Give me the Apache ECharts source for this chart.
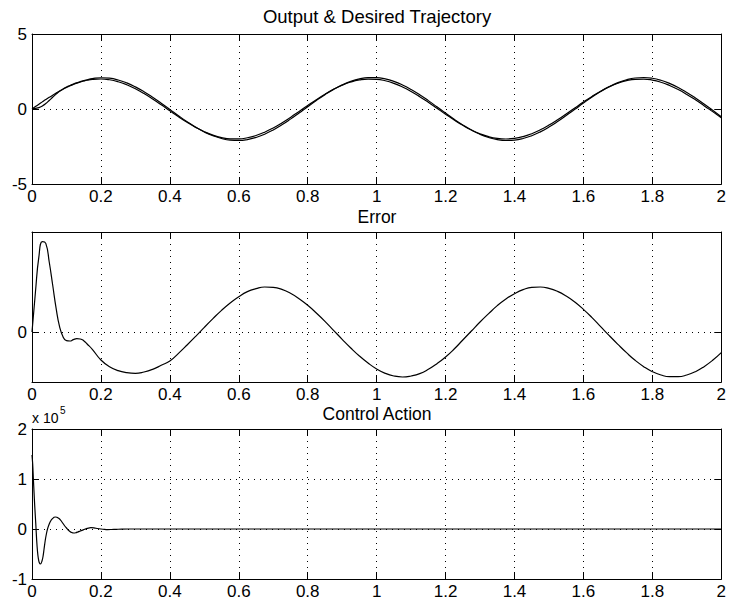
<!DOCTYPE html>
<html>
<head>
<meta charset="utf-8">
<script src="https://cdn.jsdelivr.net/npm/echarts@6/dist/echarts.min.js"></script>
<style>
html,body{margin:0;padding:0;background:#fff;}
#c{width:729px;height:610px;}
</style>
</head>
<body>
<div id="c"></div>
<script>
// time samples for trajectory / error panels
const tTraj = [0,0.01,0.02,0.03,0.04,0.05,0.06,0.07,0.08,0.09,0.10,0.11,0.12,0.13,0.14,0.15,0.16,0.175,
  0.2,0.225,0.25,0.275,0.3,0.325,0.35,0.375,0.4,0.425,0.45,0.475,0.5,0.525,0.55,0.575,0.6,0.625,0.65,0.675,
  0.7,0.725,0.75,0.775,0.8,0.825,0.85,0.875,0.9,0.925,0.95,0.975,1.0,1.025,1.05,1.075,1.1,1.125,1.15,1.175,
  1.2,1.225,1.25,1.275,1.3,1.325,1.35,1.375,1.4,1.425,1.45,1.475,1.5,1.525,1.55,1.575,1.6,1.625,1.65,1.675,
  1.7,1.725,1.75,1.775,1.8,1.825,1.85,1.875,1.9,1.925,1.95,1.975,2.0];

const desired = [0,0.160,0.319,0.475,0.629,0.779,0.924,1.062,1.194,1.319,1.435,1.541,1.638,1.725,1.800,1.864,1.916,1.971,
  1.999,1.948,1.819,1.617,1.351,1.031,0.670,0.282,-0.117,-0.511,-0.885,-1.224,-1.514,-1.743,-1.903,-1.987,
  -1.992,-1.918,-1.767,-1.546,-1.263,-0.929,-0.559,-0.166,0.233,0.623,0.988,1.314,1.587,1.797,1.936,1.997,
  1.979,1.881,1.709,1.469,1.170,0.824,0.446,0.050,-0.349,-0.733,-1.088,-1.400,-1.656,-1.846,-1.962,-2.000,
  -1.958,-1.839,-1.646,-1.388,-1.073,-0.716,-0.331,0.067,0.463,0.840,1.184,1.481,1.718,1.887,1.981,1.995,
  1.930,1.786,1.571,1.301,0.974,0.612,0.224,-0.175,-0.576];

const output = [0,0.040,0.093,0.204,0.363,0.569,0.783,0.991,1.178,1.333,1.461,1.568,1.661,1.745,1.821,1.890,1.952,2.023,
  2.083,2.052,1.935,1.739,1.475,1.151,0.782,0.382,-0.030,-0.447,-0.846,-1.211,-1.528,-1.783,-1.968,-2.074,
  -2.098,-2.039,-1.897,-1.681,-1.397,-1.057,-0.675,-0.266,0.153,0.566,0.956,1.309,1.609,1.845,2.008,2.090,
  2.090,2.005,1.841,1.604,1.302,0.949,0.558,0.145,-0.274,-0.682,-1.064,-1.403,-1.686,-1.901,-2.041,-2.099,
  -2.073,-1.966,-1.780,-1.523,-1.204,-0.838,-0.439,-0.023,0.395,0.797,1.168,1.492,1.755,1.949,2.066,2.099,
  2.049,1.915,1.705,1.435,1.103,0.731,0.328,-0.090,-0.514];

const errorVals = [0,0.120,0.226,0.271,0.266,0.210,0.141,0.071,0.016,-0.014,-0.026,-0.027,-0.023,-0.020,-0.021,-0.026,-0.036,-0.052,
  -0.084,-0.104,-0.116,-0.122,-0.124,-0.120,-0.112,-0.100,-0.087,-0.064,-0.039,-0.013,0.014,0.040,0.065,0.087,
  0.106,0.121,0.130,0.135,0.134,0.128,0.116,0.100,0.080,0.057,0.032,0.005,-0.022,-0.048,-0.072,-0.093,
  -0.111,-0.124,-0.132,-0.135,-0.132,-0.125,-0.112,-0.095,-0.075,-0.051,-0.024,0.003,0.030,0.055,0.079,0.099,
  0.115,0.127,0.134,0.135,0.131,0.122,0.108,0.090,0.068,0.043,0.016,-0.011,-0.037,-0.062,-0.085,-0.104,
  -0.119,-0.129,-0.134,-0.134,-0.129,-0.119,-0.104,-0.085,-0.062];

// control action (x 1e5)
const tCtrl = [0,0.002,0.004,0.006,0.008,0.011,0.0135,0.016,0.018,0.021,0.025,0.029,0.032,0.035,0.0386,0.042,0.045,0.05,0.055,0.06,0.064,0.068,
  0.072,0.076,0.08,0.085,0.09,0.095,0.10,0.105,0.11,0.115,0.121,0.127,0.133,0.14,0.15,0.16,0.171,0.18,0.19,0.20,0.21,0.219,0.23,0.245,0.26,0.28,0.3,0.5,1.0,1.5,2.0];
const control = [1.48,1.30,1.00,0.72,0.45,0.10,-0.22,-0.45,-0.57,-0.67,-0.70,-0.64,-0.55,-0.40,-0.22,-0.09,0.00,0.10,0.17,0.21,0.235,0.24,
  0.235,0.22,0.20,0.16,0.11,0.06,0.02,-0.02,-0.05,-0.07,-0.08,-0.075,-0.06,-0.04,-0.012,0.012,0.027,0.022,0.010,0.000,-0.008,-0.012,-0.010,-0.006,-0.002,0,0,0,0,0,0];

const xTickStep = 0.2;
const yTraj = {min:-5, max:5, step:5};
const yErr = {min:-0.15, max:0.3};
const yCtrl = {min:-1, max:2, step:1};

const FONT = "'Liberation Sans', Arial, Helvetica, sans-serif";
const dotted = {type:[1,5], color:'#000', width:1};
const grids = [
  {left:32, top:34, width:690, height:150},
  {left:32, top:232, width:690, height:150},
  {left:32, top:429, width:690, height:150}
];

function xAx(g, pos, labels){
  return {
    type:'value', gridIndex:g, position:pos, min:0, max:2, interval:xTickStep,
    axisLine:{show:true, onZero:false, lineStyle:{color:'#000', width:1}},
    axisTick:{show:true, inside:true, length:7, lineStyle:{color:'#000'}},
    axisLabel:{show:labels, color:'#000', fontSize:17, lineHeight:17, fontFamily:FONT, margin:4, showMinLabel:true, showMaxLabel:true},
    splitLine:{show:labels, lineStyle:dotted}
  };
}
function yAx(g, pos, labels, cfg, custom){
  const a = {
    type:'value', gridIndex:g, position:pos, min:cfg.min, max:cfg.max,
    axisLine:{show:true, onZero:false, lineStyle:{color:'#000', width:1}},
    axisTick:{show:true, inside:true, length:7, lineStyle:{color:'#000'}},
    axisLabel:{show:labels, color:'#000', fontSize:17, fontFamily:FONT, margin:5, showMinLabel:true, showMaxLabel:true},
    splitLine:{show:labels && !custom, lineStyle:dotted}
  };
  if (cfg.step) a.interval = cfg.step;
  if (custom){
    a.axisLabel.customValues = custom;
    a.axisTick.customValues = custom;
  }
  return a;
}

const zip = (ts, vs) => ts.map((t,i)=>[t, vs[i]]);
const lineStyle = {color:'#000', width:1.2};

const chart = echarts.init(document.getElementById('c'), null, {renderer:'svg'});
chart.setOption({
  animation:false,
  backgroundColor:'#fff',
  grid: grids,
  xAxis:[xAx(0,'bottom',true), xAx(0,'top',false), xAx(1,'bottom',true), xAx(1,'top',false), xAx(2,'bottom',true), xAx(2,'top',false)],
  yAxis:[yAx(0,'left',true,yTraj), yAx(0,'right',false,yTraj),
         yAx(1,'left',true,yErr,[0]), yAx(1,'right',false,yErr,[0]),
         yAx(2,'left',true,yCtrl), yAx(2,'right',false,yCtrl)],
  series:[
    {type:'line', xAxisIndex:0, yAxisIndex:0, data:zip(tTraj, desired), showSymbol:false, smooth:true, lineStyle:lineStyle, itemStyle:{color:'#000'}},
    {type:'line', xAxisIndex:0, yAxisIndex:0, data:zip(tTraj, output), showSymbol:false, smooth:true, lineStyle:lineStyle, itemStyle:{color:'#000'}},
    {type:'line', xAxisIndex:2, yAxisIndex:2, data:zip(tTraj, errorVals), showSymbol:false, smooth:true, lineStyle:lineStyle, itemStyle:{color:'#000'},
      markLine:{silent:true, symbol:['none','none'], label:{show:false}, lineStyle:dotted, data:[{yAxis:0}]}},
    {type:'line', xAxisIndex:4, yAxisIndex:4, data:zip(tCtrl, control), showSymbol:false, smooth:0.3, lineStyle:lineStyle, itemStyle:{color:'#000'}}
  ],
  graphic:[
    {type:'text', x:377, y:16, style:{text:'Output & Desired Trajectory', fill:'#000', fontSize:18.5, fontFamily:FONT, textAlign:'center', textVerticalAlign:'middle', align:'center', verticalAlign:'middle'}},
    {type:'text', x:377, y:217, style:{text:'Error', fill:'#000', fontSize:17.5, fontFamily:FONT, textAlign:'center', textVerticalAlign:'middle', align:'center', verticalAlign:'middle'}},
    {type:'text', x:377, y:414, style:{text:'Control Action', fill:'#000', fontSize:17.5, fontFamily:FONT, textAlign:'center', textVerticalAlign:'middle', align:'center', verticalAlign:'middle'}},
    {type:'text', x:32, y:418, style:{text:'x 10', fill:'#000', fontSize:14, fontFamily:FONT, textAlign:'left', textVerticalAlign:'middle', align:'left', verticalAlign:'middle'}},
    {type:'text', x:60, y:410, style:{text:'5', fill:'#000', fontSize:10, fontFamily:FONT, textAlign:'left', textVerticalAlign:'middle', align:'left', verticalAlign:'middle'}}
  ]
});
</script>
</body>
</html>
